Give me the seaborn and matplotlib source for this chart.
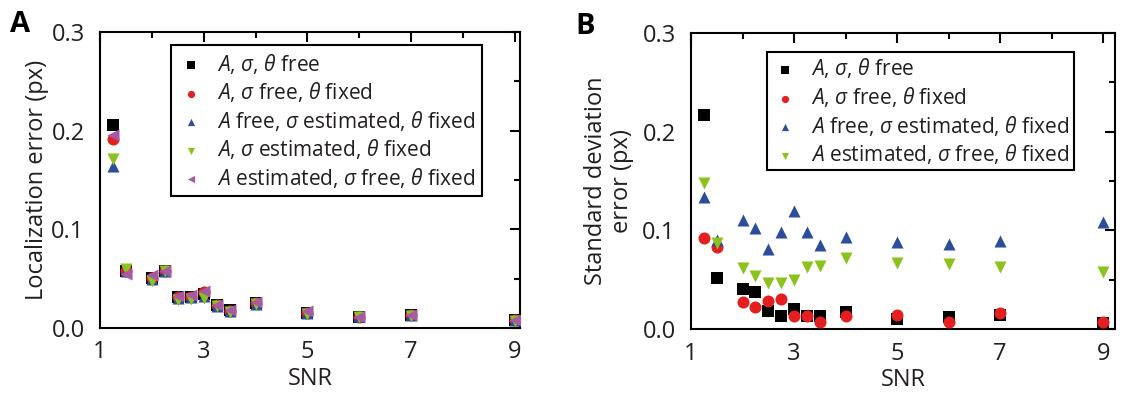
import numpy as np
import pandas as pd
import matplotlib
matplotlib.use("Agg")
import matplotlib.pyplot as plt
import seaborn as sns
from matplotlib.ticker import MultipleLocator

sns.set_theme(style="white")
plt.rcParams['font.family'] = ['Open Sans', 'DejaVu Sans']
plt.rcParams['mathtext.fontset'] = 'custom'
plt.rcParams['mathtext.it'] = 'Open Sans:italic'
plt.rcParams['mathtext.rm'] = 'Open Sans'

snr = [1.25, 1.5, 2, 2.25, 2.5, 2.75, 3, 3.25, 3.5, 4, 5, 6, 7, 9]

# Panel A: localization error (px)
locA_free = [0.206, 0.058, 0.051, 0.058, 0.031, 0.031, 0.034, 0.023, 0.018, 0.025, 0.015, 0.011, 0.013, 0.008]
locA_sigfree = [0.192, 0.058, 0.051, 0.058, 0.031, 0.031, 0.036, 0.023, 0.017, 0.025, 0.015, 0.011, 0.013, 0.008]
locA_sigest_afree = [0.164, 0.058, 0.050, 0.058, 0.030, 0.031, 0.032, 0.022, 0.017, 0.024, 0.015, 0.012, 0.013, 0.008]
locA_sigest = [0.171, 0.060, 0.048, 0.058, 0.028, 0.029, 0.030, 0.022, 0.016, 0.024, 0.014, 0.011, 0.012, 0.007]
locA_aest = [0.196, 0.055, 0.054, 0.058, 0.032, 0.033, 0.038, 0.023, 0.018, 0.026, 0.017, 0.011, 0.013, 0.008]

# Panel B: standard deviation error (px)
sdB_free = [0.217, 0.052, 0.041, 0.037, 0.018, 0.013, 0.020, 0.013, 0.013, 0.017, 0.010, 0.012, 0.014, 0.006]
sdB_sigfree = [0.092, 0.083, 0.027, 0.022, 0.028, 0.030, 0.013, 0.013, 0.007, 0.013, 0.014, 0.007, 0.016, 0.007]
sdB_sigest_afree = [0.134, 0.090, 0.110, 0.102, 0.081, 0.098, 0.120, 0.098, 0.085, 0.093, 0.088, 0.086, 0.089, 0.108]
sdB_aest = [0.148, 0.087, 0.062, 0.054, 0.047, 0.047, 0.050, 0.063, 0.064, 0.072, 0.067, 0.066, 0.063, 0.058]

labels_A = [r"$A$, $\sigma$, $\theta$ free",
            r"$A$, $\sigma$ free, $\theta$ fixed",
            r"$A$ free, $\sigma$ estimated, $\theta$ fixed",
            r"$A$, $\sigma$ estimated, $\theta$ fixed",
            r"$A$ estimated, $\sigma$ free, $\theta$ fixed"]
labels_B = [r"$A$, $\sigma$, $\theta$ free",
            r"$A$, $\sigma$ free, $\theta$ fixed",
            r"$A$ free, $\sigma$ estimated, $\theta$ fixed",
            r"$A$ estimated, $\sigma$ free, $\theta$ fixed"]

colors = ["#000000", "#e3201f", "#2b4d9c", "#8cc21e", "#a55aa3"]
markers = ["s", "o", "^", "v", "<"]
TXT = "#231f20"

fig = plt.figure(figsize=(11.22, 3.94), dpi=100)
axA = fig.add_axes([100/1122, 1-328/394, 420/1122, 296/394])
axB = fig.add_axes([691/1122, 1-329/394, 424/1122, 296/394])

seriesA = [locA_free, locA_sigfree, locA_sigest_afree, locA_sigest, locA_aest]
seriesB = [sdB_free, sdB_sigfree, sdB_sigest_afree, sdB_aest]

for i, (vals, lab) in enumerate(zip(seriesA, labels_A)):
    df = pd.DataFrame({"SNR": snr, "err": vals})
    sns.scatterplot(data=df, x="SNR", y="err", ax=axA, marker=markers[i], color=colors[i],
                    s=75, linewidth=0, label=lab, zorder=3 + i)
for i, (vals, lab) in enumerate(zip(seriesB, labels_B)):
    df = pd.DataFrame({"SNR": snr, "err": vals})
    sns.scatterplot(data=df, x="SNR", y="err", ax=axB, marker=markers[i], color=colors[i],
                    s=75, linewidth=0, label=lab, zorder=3 + i)

for ax in (axA, axB):
    ax.set_xlim(1, 9.1)
    ax.set_ylim(0, 0.3)
    ax.xaxis.set_minor_locator(MultipleLocator(1))
    ax.yaxis.set_minor_locator(MultipleLocator(0.05))
    ax.set_xticks([1, 3, 5, 7, 9])
    ax.set_yticks([0, 0.1, 0.2, 0.3])
    ax.set_yticklabels(["0.0", "0.1", "0.2", "0.3"])
    ax.tick_params(which="both", direction="in", top=True, right=True, width=1.5,
                   labelsize=17, color="black", labelcolor=TXT)
    ax.tick_params(which="major", length=7)
    ax.tick_params(which="minor", length=4)
    ax.tick_params(axis="y", pad=11)
    ax.tick_params(axis="x", pad=9)
    for sp in ax.spines.values():
        sp.set_visible(True)
        sp.set_color("black")
        sp.set_linewidth(1.5)
    ax.set_xlabel("SNR", fontsize=17, color=TXT, labelpad=2)

axB.set_xlim(1, 9.23)
axA.set_ylabel("Localization error (px)", fontsize=17, color=TXT, labelpad=2)
axB.set_ylabel("Standard deviation\nerror (px)", fontsize=17, color=TXT, labelpad=6,
               linespacing=1.1)

legA = axA.legend(loc="upper left", bbox_to_anchor=(0.17, 0.955), fontsize=15,
                  frameon=True, fancybox=False, edgecolor="black", framealpha=1,
                  handletextpad=0.6, labelspacing=0.22, borderpad=0.3, handlelength=1.3,
                  markerscale=0.6, borderaxespad=0)
legA.get_frame().set_linewidth(1.5)
for t in legA.get_texts():
    t.set_color(TXT)
legB = axB.legend(loc="upper left", bbox_to_anchor=(0.18, 0.935), fontsize=15,
                  frameon=True, fancybox=False, edgecolor="black", framealpha=1,
                  handletextpad=0.6, labelspacing=0.22, borderpad=0.2, handlelength=1.3,
                  markerscale=0.6, borderaxespad=0)
legB.get_frame().set_linewidth(1.5)
for t in legB.get_texts():
    t.set_color(TXT)

fig.text(10/1122, 1-32/394, "A", fontsize=21, fontweight="bold", color="black")
fig.text(575/1122, 1-34/394, "B", fontsize=21, fontweight="bold", color="black")

fig.savefig("out.png", dpi=100)
